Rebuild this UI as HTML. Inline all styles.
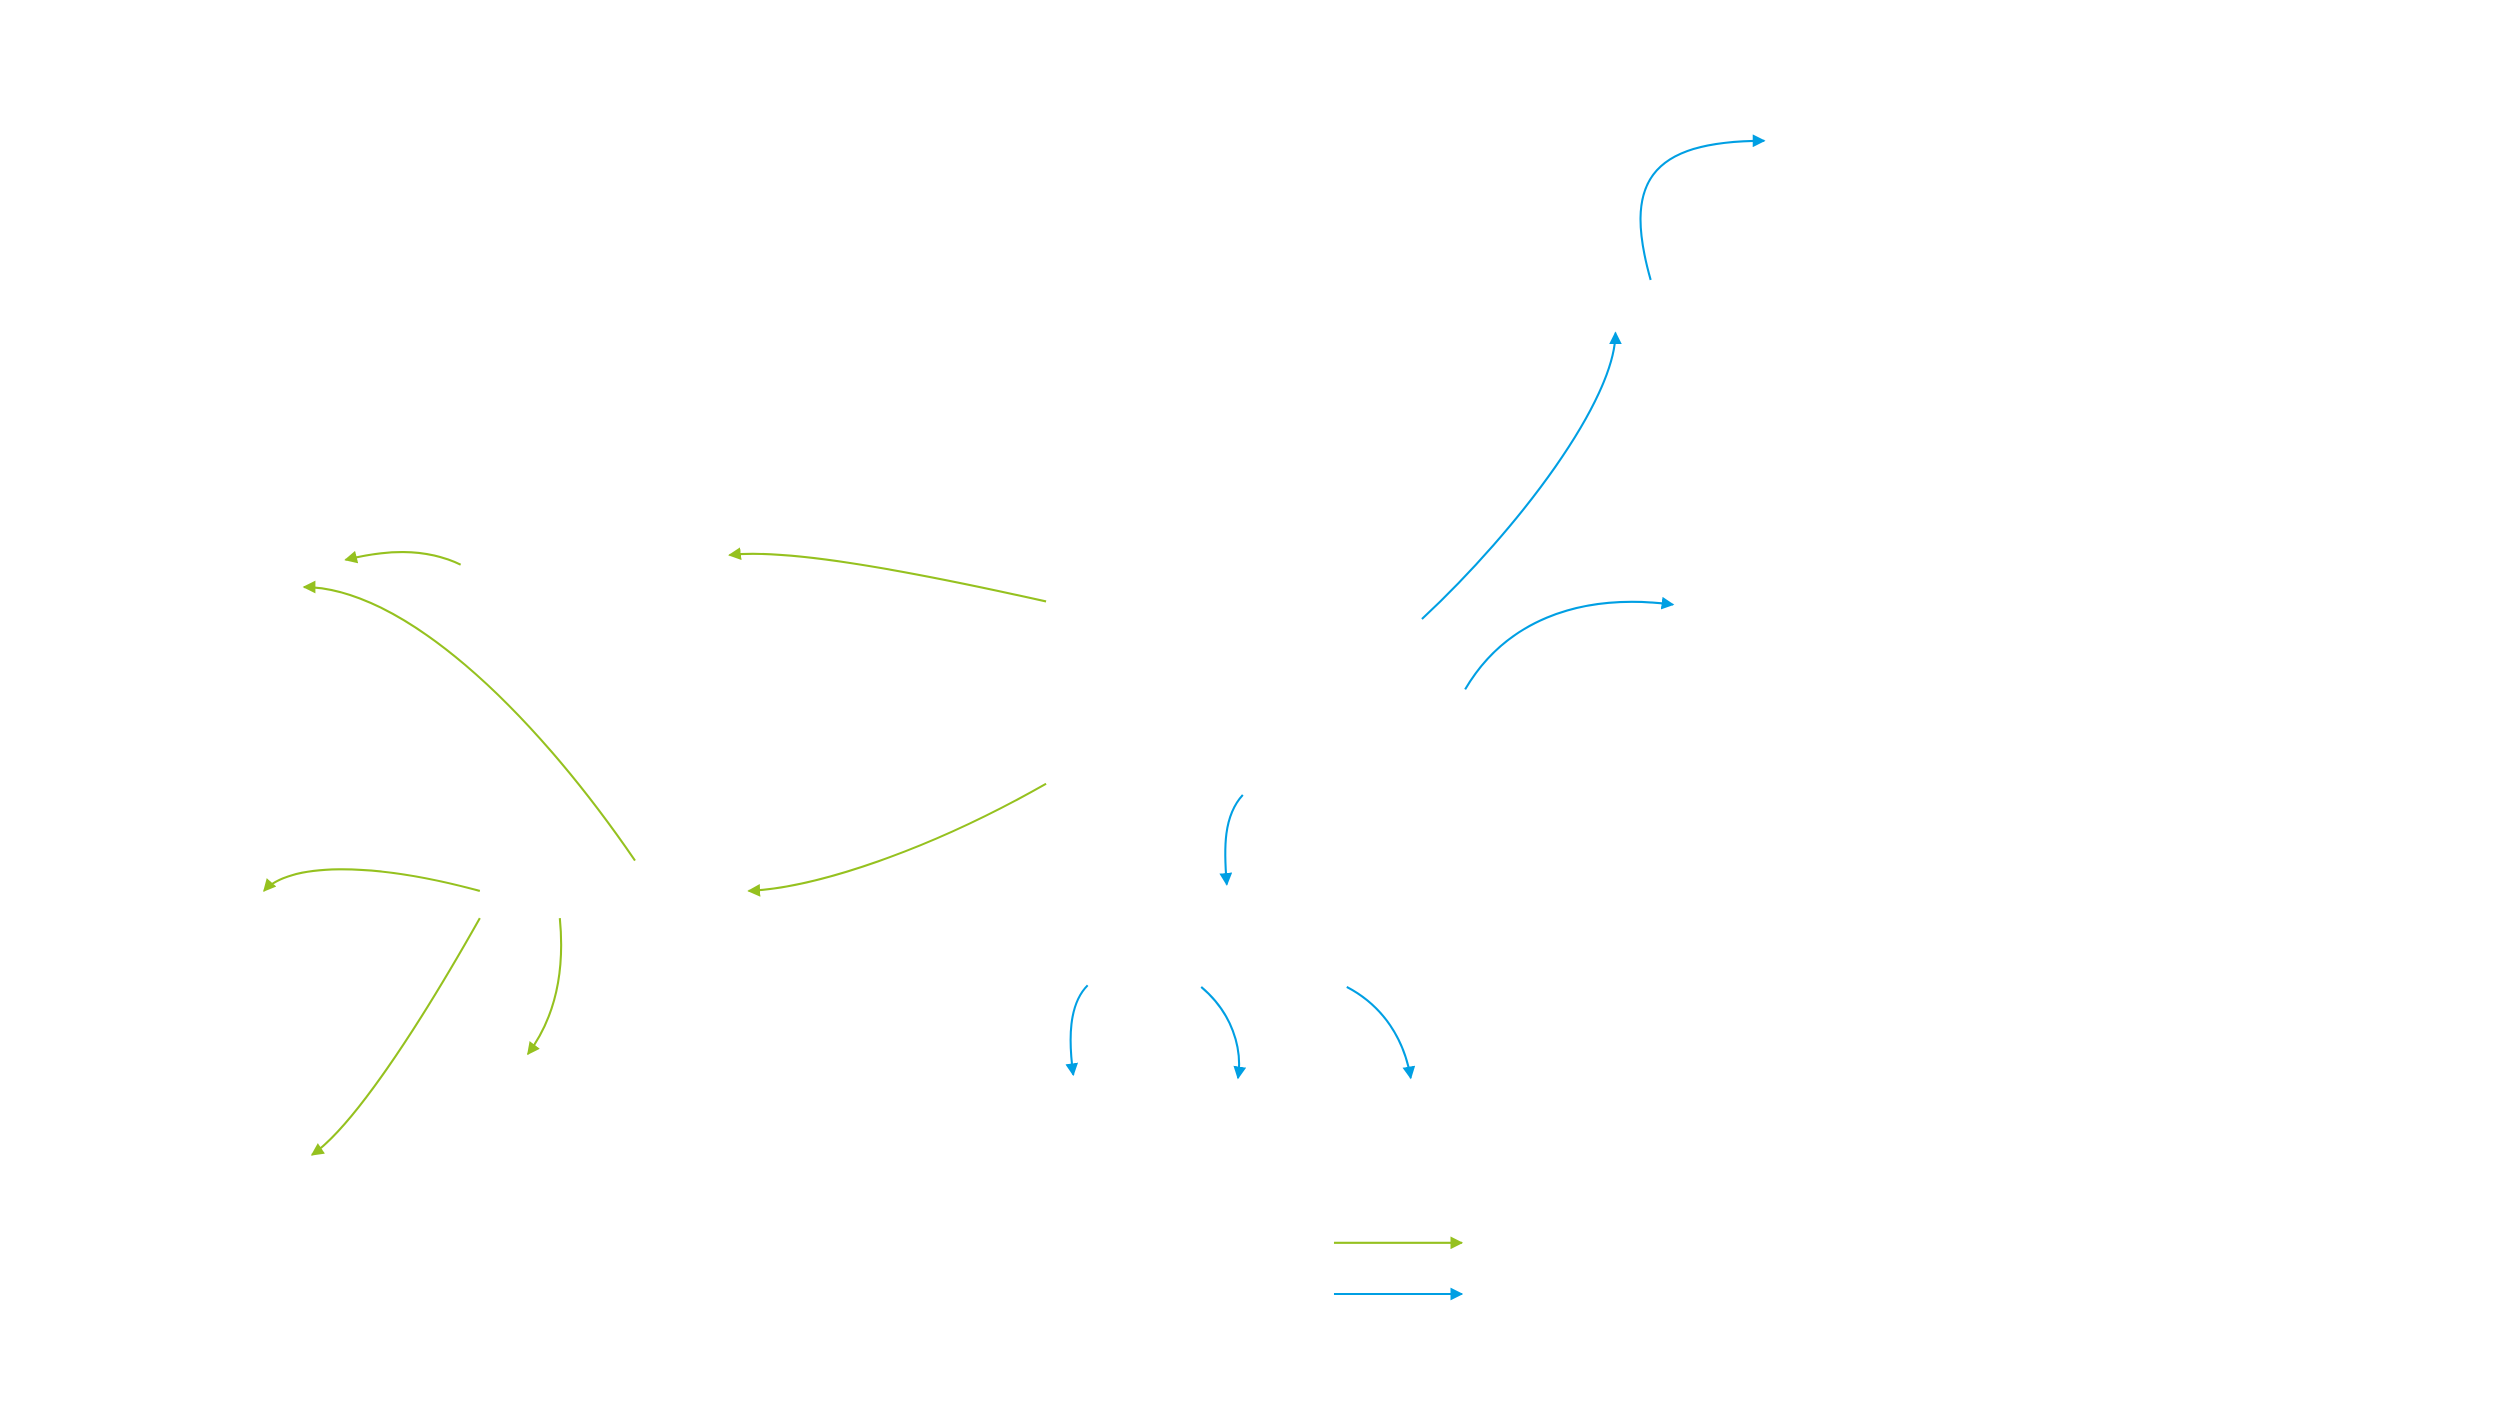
<!DOCTYPE html>
<html><head><meta charset="utf-8"><style>
html,body{margin:0;padding:0;background:#fff;width:2500px;height:1406px;overflow:hidden}
svg{display:block}
</style></head><body>
<svg width="2500" height="1406" viewBox="0 0 1563 879" xmlns="http://www.w3.org/2000/svg">
<defs>
<marker id="g" viewBox="0 0 10 10" refX="9" refY="5" markerWidth="8" markerHeight="8" markerUnits="userSpaceOnUse" orient="auto"><path d="M0,0L10,5L0,10z" fill="#95c11f"/></marker>
<marker id="b" viewBox="0 0 10 10" refX="9" refY="5" markerWidth="8" markerHeight="8" markerUnits="userSpaceOnUse" orient="auto"><path d="M0,0L10,5L0,10z" fill="#009fe3"/></marker>
</defs>
<g fill="none" stroke-width="1.3">
<g stroke="#009fe3" marker-end="url(#b)">
<path d="M1032,175 C1015,115 1030,88 1103,88"/>
<path d="M889,387 C950,330 1010,250 1010,208"/>
<path d="M916,431 C940,390 985,370 1046,378"/>
<path d="M777,497 C765,510 765,530 767,553"/>
<path d="M680,616 C668,628 668,650 671,672"/>
<path d="M751,617 C770,633 777,655 774,674"/>
<path d="M842,617 C865,629 878,650 882,674"/>
<path d="M834,809 L914,809"/>
</g>
<g stroke="#95c11f" marker-end="url(#g)">
<path d="M654,376 C560,355 490,343 456,347"/>
<path d="M288,353 C265,342 240,344 216,350"/>
<path d="M397,538 C330,440 250,367 190,367"/>
<path d="M654,490 C580,532 510,555 468,557"/>
<path d="M300,557 C230,538 180,540 165,557"/>
<path d="M300,574 C260,645 220,705 195,722"/>
<path d="M350,574 C353,605 348,635 330,659"/>
<path d="M834,777 L914,777"/>
</g>
</g>
</svg>
</body></html>
